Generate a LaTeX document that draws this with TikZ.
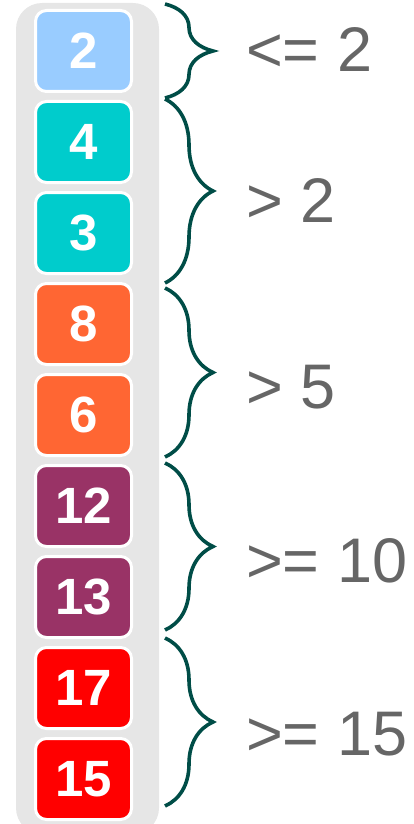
\documentclass[tikz,border=0pt]{standalone}
\usepackage{fontspec}
\setmainfont{Liberation Sans}
\usepackage{tikz}
\definecolor{panelgray}{RGB}{230, 230, 230}
\definecolor{lightblue}{RGB}{153, 204, 255}
\definecolor{teal}{RGB}{0, 204, 204}
\definecolor{orange}{RGB}{255, 102, 51}
\definecolor{plum}{RGB}{153, 51, 102}
\definecolor{brightred}{RGB}{255, 0, 0}
\definecolor{bracegreen}{RGB}{0, 77, 71}
\definecolor{labelgray}{RGB}{102, 102, 102}
\usetikzlibrary{decorations.pathreplacing, positioning}

\begin{document}
\begin{tikzpicture}[
    x=1pt, y=-1pt,
    valbox/.style={draw=white, line width=3pt, rounded corners=11pt,
                   minimum width=96pt, minimum height=81pt, inner sep=0pt,
                   text=white, font=\fontsize{51}{60}\selectfont\bfseries},
    grpbrace/.style={decorate, decoration={brace, amplitude=48pt},
                     draw=bracegreen, line width=3.6pt},
    grplabel/.style={anchor=base west, inner sep=0pt, text=labelgray,
                     font=\fontsize{63}{76}\selectfont}
]
    \useasboundingbox (0,0) rectangle (414,824);

    % Gray column behind the values
    \fill[panelgray, rounded corners=26pt] (16,3) rectangle (159,834);

    % Values
    \node[valbox, fill=lightblue] (v1) at (83.5,51) {2};
    \node[valbox, fill=teal] (v2) at (83.5,142) {4};
    \node[valbox, fill=teal] (v3) at (83.5,233) {3};
    \node[valbox, fill=orange] (v4) at (83.5,324) {8};
    \node[valbox, fill=orange] (v5) at (83.5,415) {6};
    \node[valbox, fill=plum] (v6) at (83.5,506) {12};
    \node[valbox, fill=plum] (v7) at (83.5,597) {13};
    \node[valbox, fill=brightred] (v8) at (83.5,688) {17};
    \node[valbox, fill=brightred] (v9) at (83.5,779) {15};

    % Brace ends
    \coordinate (g1top) at (165,4);
    \coordinate (g1bot) at (165,98);
    \coordinate (g2top) at (165,99);
    \coordinate (g2bot) at (165,283);
    \coordinate (g3top) at (165,288);
    \coordinate (g3bot) at (165,457);
    \coordinate (g4top) at (165,463);
    \coordinate (g4bot) at (165,630);
    \coordinate (g5top) at (165,638);
    \coordinate (g5bot) at (165,806);

    % Braces
    \draw[grpbrace] (g1top) -- (g1bot);
    \draw[grpbrace] (g2top) -- (g2bot);
    \draw[grpbrace] (g3top) -- (g3bot);
    \draw[grpbrace] (g4top) -- (g4bot);
    \draw[grpbrace] (g5top) -- (g5bot);

    % Group conditions
    \node[grplabel] (c1) at (246,72) {<= 2};
    \node[grplabel] (c2) at (246,222) {> 2};
    \node[grplabel] (c3) at (246,408) {> 5};
    \node[grplabel] (c4) at (246,582) {>= 10};
    \node[grplabel] (c5) at (246,755) {>= 15};
\end{tikzpicture}
\end{document}
